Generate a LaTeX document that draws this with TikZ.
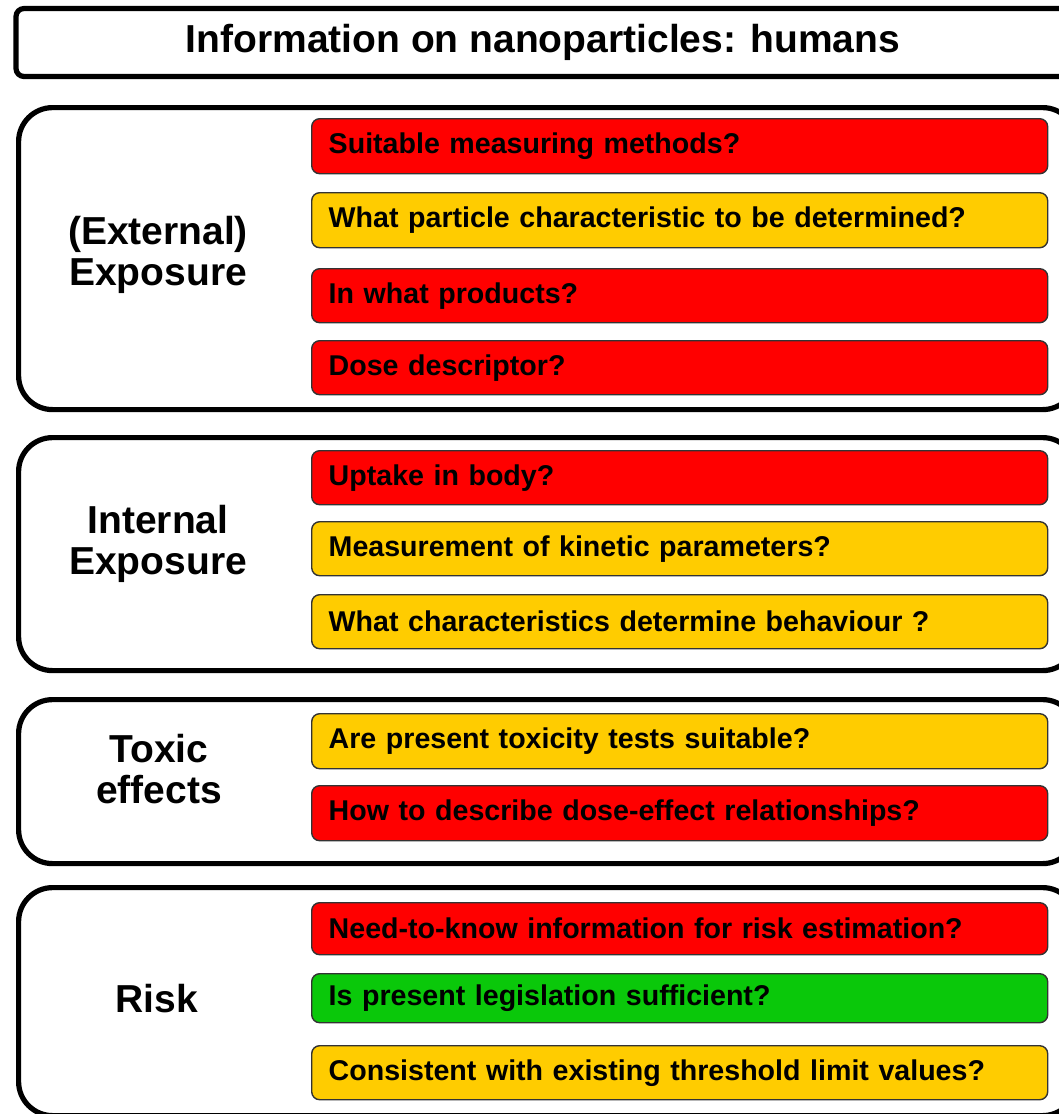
\documentclass[tikz,border=0pt]{standalone}
\usepackage{fontspec}
\setmainfont{Liberation Sans}

\definecolor{qred}{HTML}{FF0000}
\definecolor{qyellow}{HTML}{FFCC00}
\definecolor{qgreen}{HTML}{0AC80A}

\tikzset{
  titlebox/.style={draw, line width=2.6pt, rounded corners=4pt,
    minimum width=527pt, minimum height=34pt,
    font=\fontsize{19.5}{20.5}\selectfont\bfseries},
  groupbox/.style={draw, line width=2.6pt, rounded corners=17pt,
    anchor=north west, minimum width=529pt, inner sep=0pt},
  grouplabel/.style={align=center,
    font=\fontsize{19.5}{20.5}\selectfont\bfseries},
  qbox/.style={draw=black!80, line width=0.7pt, rounded corners=4pt,
    anchor=north west, text width=351pt, inner xsep=8.5pt, align=left,
    font=\fontsize{14.3}{16}\selectfont\bfseries},
  redq/.style={qbox, fill=qred},
  yellowq/.style={qbox, fill=qyellow},
  greenq/.style={qbox, fill=qgreen}
}

\begin{document}
\begin{tikzpicture}[x=0.5pt, y=-0.5pt]
    \useasboundingbox (0,0) rectangle (1059,1114);
    \clip (0,0) rectangle (1059,1114);

    % Title
    \node[titlebox] (title) at (543,42.5) {Information on nanoparticles: humans};

    % Group frames
    \node[groupbox, minimum height=151pt] (extgrp) at (16,105) {};
    \node[groupbox, minimum height=116.5pt] (intgrp) at (16,435) {};
    \node[groupbox, minimum height=82pt] (toxgrp) at (16,697) {};
    \node[groupbox, minimum height=114pt] (riskgrp) at (16,885) {};

    % Group labels
    \node[grouplabel] (extlabel) at (158,255) {(External)\\Exposure};
    \node[grouplabel] (intlabel) at (158,544) {Internal\\Exposure};
    \node[grouplabel] (toxlabel) at (159,769) {Toxic\\effects};
    \node[grouplabel] (risklabel) at (157,999) {Risk};

    % (External) exposure questions
    \node[redq, minimum height=27.5pt] (ext1) at (311,118) {Suitable measuring methods?};
    \node[yellowq, minimum height=27.5pt] (ext2) at (311,192) {What particle characteristic to be determined?};
    \node[redq, minimum height=27pt] (ext3) at (311,268) {In what products?};
    \node[redq, minimum height=27pt] (ext4) at (311,340) {Dose descriptor?};

    % Internal exposure questions
    \node[redq, minimum height=27pt] (int1) at (311,450) {Uptake in body?};
    \node[yellowq, minimum height=27pt] (int2) at (311,521) {Measurement of kinetic parameters?};
    \node[yellowq, minimum height=27pt] (int3) at (311,594) {What characteristics determine behaviour ?};

    % Toxic effects questions
    \node[yellowq, minimum height=27.5pt] (tox1) at (311,713) {Are present toxicity tests suitable?};
    \node[redq, minimum height=27.5pt] (tox2) at (311,785) {How to describe dose-effect relationships?};

    % Risk questions
    \node[redq, minimum height=26pt] (risk1) at (311,902) {Need-to-know information for risk estimation?};
    \node[greenq, minimum height=24.5pt] (risk2) at (311,973) {Is present legislation sufficient?};
    \node[yellowq, minimum height=27pt] (risk3) at (311,1045) {Consistent with existing threshold limit values?};
\end{tikzpicture}
\end{document}
